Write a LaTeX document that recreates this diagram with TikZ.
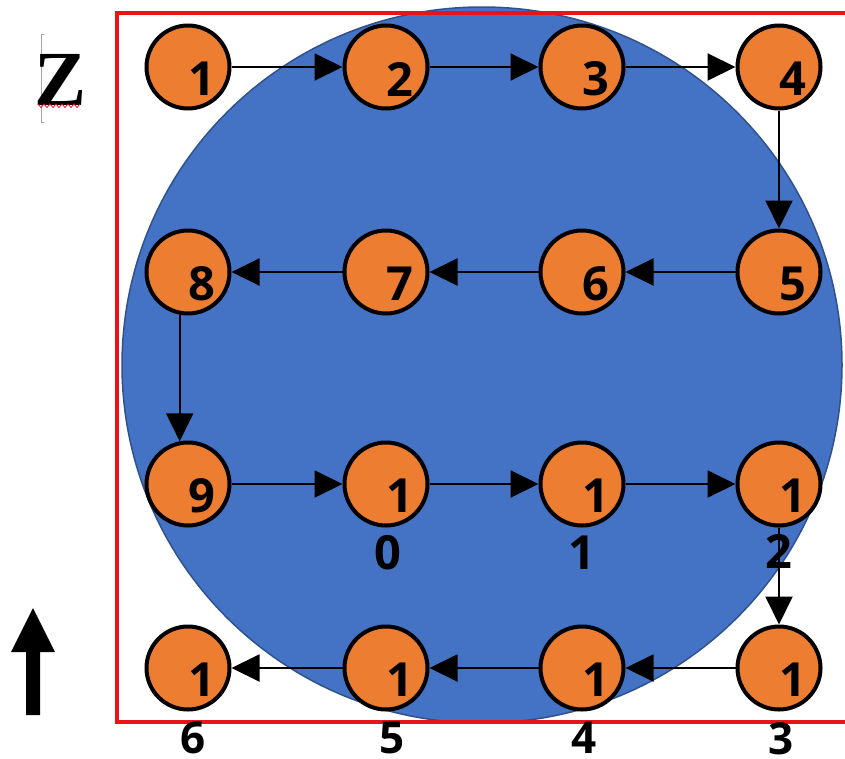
\documentclass[tikz,border=0pt]{standalone}
\usepackage{fontspec}
\setmainfont{Open Sans}
\newfontfamily\zfont{Liberation Serif}
\usetikzlibrary{arrows.meta}
\definecolor{cellorange}{HTML}{ED7D31}
\definecolor{discblue}{HTML}{4472C4}
\definecolor{discedge}{HTML}{2F528F}
\definecolor{framered}{HTML}{E8141B}
\begin{document}
\begin{tikzpicture}[x=1pt,y=-1pt,
  cell/.style={circle, draw=black, line width=4pt, fill=cellorange,
    minimum size=83pt, inner sep=0pt},
  num/.style={font=\fontsize{47}{47}\selectfont\bfseries, inner sep=0pt},
  lownum/.style={font=\fontsize{44}{44}\selectfont\bfseries, inner sep=0pt, anchor=north},
  lab/.style={label={[num, xshift=14pt, yshift=-12pt]center:#1}},
  flow/.style={draw=black, line width=2pt, -{Triangle[length=28pt,width=27pt]}},
]
\useasboundingbox (0,0) rectangle (845,758);
\fill[white] (0,0) rectangle (845,758);

% blue disc behind the grid
\filldraw[fill=discblue, draw=discedge, line width=1.5pt]
  (482,365) ellipse [x radius=360, y radius=358];

% red frame, open on the right
\draw[framered, line width=3.5pt] (845,13) -- (117,13) -- (117,722) -- (845,722);

% cells, row by row
\node[cell, lab=1] (n1)  at (188,67)  {};
\node[cell, lab=2] (n2)  at (386,67)  {};
\node[cell, lab=3] (n3)  at (582,67)  {};
\node[cell, lab=4] (n4)  at (779,67)  {};
\node[cell, lab=5] (n5)  at (779,272) {};
\node[cell, lab=6] (n6)  at (582,272) {};
\node[cell, lab=7] (n7)  at (386,272) {};
\node[cell, lab=8] (n8)  at (188,272) {};
\node[cell, lab=9] (n9)  at (188,484) {};
\node[cell, lab=1] (n10) at (386,484) {};
\node[cell, lab=1] (n11) at (582,484) {};
\node[cell, lab=1] (n12) at (779,484) {};
\node[cell, lab=1] (n13) at (779,668) {};
\node[cell, lab=1] (n14) at (582,668) {};
\node[cell, lab=1] (n15) at (386,668) {};
\node[cell, lab=1] (n16) at (188,668) {};

% second digits of the two-digit numbers
\node[num] (d10) at (388,553) {0};
\node[num] (d11) at (582,553) {1};
\node[num] (d12) at (779,551) {2};
\node[lownum] (d13) at (781,722) {3};
\node[lownum] (d14) at (584,722) {4};
\node[lownum] (d15) at (392,722) {5};
\node[lownum] (d16) at (193,722) {6};

% snake order
\draw[flow] (n1) -- (n2);
\draw[flow] (n2) -- (n3);
\draw[flow] (n3) -- (n4);
\draw[flow] (n4) -- (n5);
\draw[flow] (n5) -- (n6);
\draw[flow] (n6) -- (n7);
\draw[flow] (n7) -- (n8);
\draw[flow] (n8.259) -- (n9.101);
\draw[flow] (n9) -- (n10);
\draw[flow] (n10) -- (n11);
\draw[flow] (n11) -- (n12);
\draw[flow] (n12) -- (n13);
\draw[flow] (n13) -- (n14);
\draw[flow] (n14) -- (n15);
\draw[flow] (n15) -- (n16);

% Z label with its cursor and squiggle
\draw[gray!70, line width=0.6pt] (44,34) -- (41,34) -- (41,122) -- (44,122);
\node[font=\zfont\bfseries\fontsize{78}{78}\selectfont, inner sep=0pt] (zlabel) at (61,80) {Z};
\draw[red!85!magenta, line width=0.8pt] (38,104)
  foreach \i in {0,...,6} { -- ++(3,3.5) -- ++(3,-3.5) };

% upward arrow
\fill[black] (26,715) -- (26,652) -- (11,652) -- (33,608) -- (55,652)
  -- (40,652) -- (40,715) -- cycle;
\end{tikzpicture}
\end{document}
